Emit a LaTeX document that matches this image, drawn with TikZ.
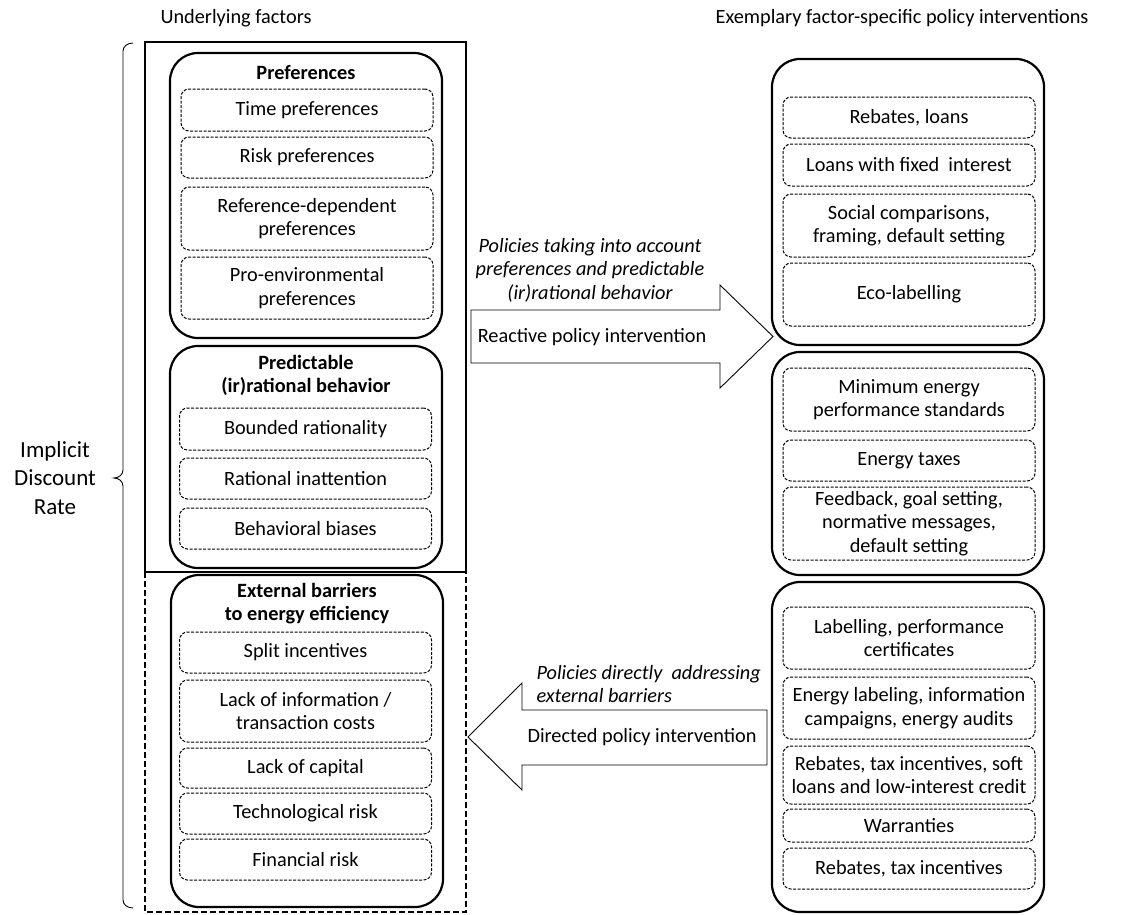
\documentclass[tikz,border=0pt]{standalone}
\usepackage{fontspec}
\setmainfont{Carlito}
\usepackage{tikz}
\usetikzlibrary{positioning}

\begin{document}
\begin{tikzpicture}
	[x=1pt,y=-1pt,
		every node/.style={font=\fontsize{20.3}{23.5}\selectfont},
		group node/.style={draw,line width=2.2pt,rounded corners=28pt,minimum width=272pt},
		item node/.style={draw,line width=1pt,dash pattern=on 3pt off 1.5pt,rounded corners=8pt,minimum width=252pt,align=center,inner sep=0pt},
		title node/.style={font=\fontsize{20.3}{23.5}\selectfont\bfseries,align=center},
		label node/.style={font=\fontsize{20.3}{23.5}\selectfont\itshape,align=center}]

	\useasboundingbox (0,0) rectangle (1125,914);

	% headers
	\node (hleft)  at (236,18) {Underlying factors};
	\node (hright) at (902,18) {Exemplary factor-specific policy interventions};

	% frames round the underlying factors
	\draw[line width=2.2pt] (145,42) rectangle (466,572);
	\draw[line width=2pt,dash pattern=on 6pt off 3pt] (145,572) rectangle (466,912);

	% brace and rate
	\draw[line width=0.9pt] (133,43) to[out=180,in=90] (123,51) -- (123,470)
		to[out=-90,in=0] (114,478) to[out=0,in=90] (123,486) -- (123,900)
		to[out=-90,in=180] (133,908);
	\node[font=\fontsize{23}{28.5}\selectfont,align=center] (rate) at (55,478) {Implicit\\Discount\\Rate};

	% preferences
	\node[group node,minimum height=285pt] (pref) at (306,195.5) {};
	\node[title node] (preft) at (306,73) {Preferences};
	\node[item node,minimum height=42pt] (tp)  at (307,110)   {Time preferences};
	\node[item node,minimum height=41pt] (rp)  at (307,157.5) {Risk preferences};
	\node[item node,minimum height=63pt] (rdp) at (307,218.5) {Reference-dependent\\preferences};
	\node[item node,minimum height=62pt] (pep) at (307,288)   {Pro-environmental\\preferences};

	% predictable (ir)rational behavior
	\node[group node,minimum height=222pt] (pred) at (306,457) {};
	\node[title node] (predt) at (306,375.5) {Predictable\\(ir)rational behavior};
	\node[item node,minimum height=42pt] (br) at (305.5,429)   {Bounded rationality};
	\node[item node,minimum height=41pt] (ri) at (305.5,478.5) {Rational inattention};
	\node[item node,minimum height=41pt] (bb) at (305.5,528.5) {Behavioral biases};

	% external barriers
	\node[group node,minimum height=332pt] (ext) at (307,741) {};
	\node[title node] (extt) at (307,603.5) {External barriers\\to energy efficiency};
	\node[item node,minimum height=41pt] (si) at (305.5,652.5) {Split incentives};
	\node[item node,minimum height=62pt] (li) at (305.5,711)   {Lack of information /\\transaction costs};
	\node[item node,minimum height=40pt] (lc) at (305.5,768)   {Lack of capital};
	\node[item node,minimum height=41pt] (tr) at (305.5,813.5) {Technological risk};
	\node[item node,minimum height=41pt] (fr) at (305.5,859.5) {Financial risk};

	% policies for preferences
	\node[group node,minimum height=286pt] (polpref) at (908,202) {};
	\node[item node,minimum height=41pt] (rl) at (909,117.5) {Rebates, loans};
	\node[item node,minimum height=42pt] (lf) at (909,165)   {Loans with fixed\ \ interest};
	\node[item node,minimum height=63pt] (sc) at (909,225.5) {Social comparisons,\\framing, default setting};
	\node[item node,minimum height=63pt] (el) at (909,294.5) {Eco-labelling};

	% policies for behavior
	\node[group node,minimum height=223pt] (polpred) at (908,463.5) {};
	\node[item node,minimum height=63pt] (me) at (909,399.5) {Minimum energy\\performance standards};
	\node[item node,minimum height=41pt] (et) at (909,460.5) {Energy taxes};
	\node[item node,minimum height=73pt] (fb) at (909,523.5) {Feedback, goal setting,\\normative messages,\\default setting};

	% policies for barriers
	\node[group node,minimum height=330pt] (polext) at (908,747) {};
	\node[item node,minimum height=62pt] (lp)  at (909,638)   {Labelling, performance\\certificates};
	\node[item node,minimum height=62pt] (elc) at (909,708)   {Energy labeling, information\\campaigns, energy audits};
	\node[item node,minimum height=58pt] (rts) at (909,775)   {Rebates, tax incentives, soft\\loans and low-interest credit};
	\node[item node,minimum height=33pt] (wa)  at (909,825.5) {Warranties};
	\node[item node,minimum height=41pt] (rti) at (909,868.5) {Rebates, tax incentives};

	% block arrows
	\draw[line width=0.9pt] (471,310) -- (720,310) -- (720,285) -- (773,336.5)
		-- (720,388) -- (720,363) -- (471,363) -- cycle;
	\node[label node] (reactl) at (590,270) {Policies taking into account\\preferences and predictable\\(ir)rational behavior};
	\node (react) at (592,337) {Reactive policy intervention};

	\draw[line width=0.9pt] (468,737) -- (522,683) -- (522,710) -- (767,710)
		-- (767,765) -- (522,765) -- (522,790) -- cycle;
	\node[label node,align=left,anchor=west] (directl) at (533,684) {Policies directly\ \ addressing\\external barriers};
	\node (direct) at (642,737) {Directed policy intervention};

\end{tikzpicture}
\end{document}
